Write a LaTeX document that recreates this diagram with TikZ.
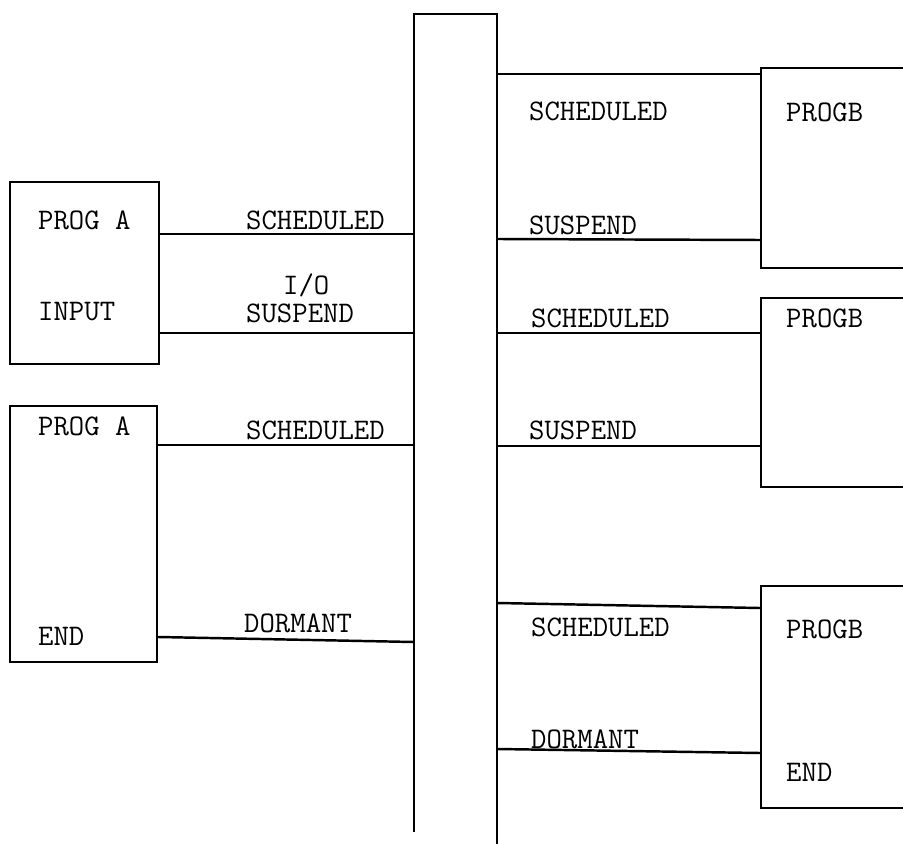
\documentclass[tikz,border=0pt]{standalone}
\usetikzlibrary{fit}
\begin{document}
\begin{tikzpicture}[
      x=0.02cm, y=-0.02cm, line width=1.4pt,
      font=\ttfamily\fontsize{17}{20}\selectfont,
      progbox/.style={draw, inner sep=0pt},
      lbl/.style={anchor=base west, inner sep=0pt},
    ]
    \useasboundingbox (0,0) rectangle (903,844);
    \clip (0,0) rectangle (903,844);

    % central bar (open at the bottom)
    \node[inner sep=0pt, fit={(415,15) (496,860)}] (bar) {};
    \draw (bar.west |- 0,832) -- (bar.north west) -- (bar.north east) -- (bar.south east);

    % program A boxes (left)
    \node[progbox, fit={(10,182) (159,364)}] (progA1) {};
    \node[progbox, fit={(10,406) (157,662)}] (progA2) {};

    % program B boxes (right, cut at the edge)
    \node[progbox, fit={(761,68) (930,268)}] (progB1) {};
    \node[progbox, fit={(761,298) (930,487)}] (progB2) {};
    \node[progbox, fit={(761,586) (930,808)}] (progB3) {};

    % box texts
    \node[lbl] (a1name) at (37,230) {PROG A};
    \node[lbl] (a1input) at (37,321) {INPUT};
    \node[lbl] (a2name) at (37,436) {PROG A};
    \node[lbl] (a2end) at (37,645) {END};
    \node[lbl] (b1name) at (785,122) {PROGB};
    \node[lbl] (b2name) at (785,328) {PROGB};
    \node[lbl] (b3name) at (785,638) {PROGB};
    \node[lbl] (b3end) at (785,781) {END};

    % connectors, left side
    \draw (progA1.east |- 0,234) -- (bar.west |- 0,234);
    \draw (progA1.east |- 0,333) -- (bar.west |- 0,333);
    \draw (progA2.east |- 0,445) -- (bar.west |- 0,445);
    \draw (progA2.east |- 0,637) -- (bar.west |- 0,642);

    % connectors, right side
    \draw (bar.east |- 0,74) -- (progB1.west |- 0,74);
    \draw (bar.east |- 0,239) -- (progB1.west |- 0,240);
    \draw (bar.east |- 0,333) -- (progB2.west |- 0,333);
    \draw (bar.east |- 0,446) -- (progB2.west |- 0,446);
    \draw (bar.east |- 0,603) -- (progB3.west |- 0,608);
    \draw (bar.east |- 0,749) -- (progB3.west |- 0,753);

    % connector labels
    \node[lbl] (l1) at (245,230) {SCHEDULED};
    \node[lbl] (l2) at (282,295) {I/O};
    \node[lbl] (l3) at (245,323) {SUSPEND};
    \node[lbl] (l4) at (245,439) {SCHEDULED};
    \node[lbl] (l5) at (243,632) {DORMANT};
    \node[lbl] (r1) at (528,121) {SCHEDULED};
    \node[lbl] (r2) at (528,235) {SUSPEND};
    \node[lbl] (r3) at (530,328) {SCHEDULED};
    \node[lbl] (r4) at (528,440) {SUSPEND};
    \node[lbl] (r5) at (530,636) {SCHEDULED};
    \node[lbl] (r6) at (530,748) {DORMANT};
  \end{tikzpicture}
\end{document}
